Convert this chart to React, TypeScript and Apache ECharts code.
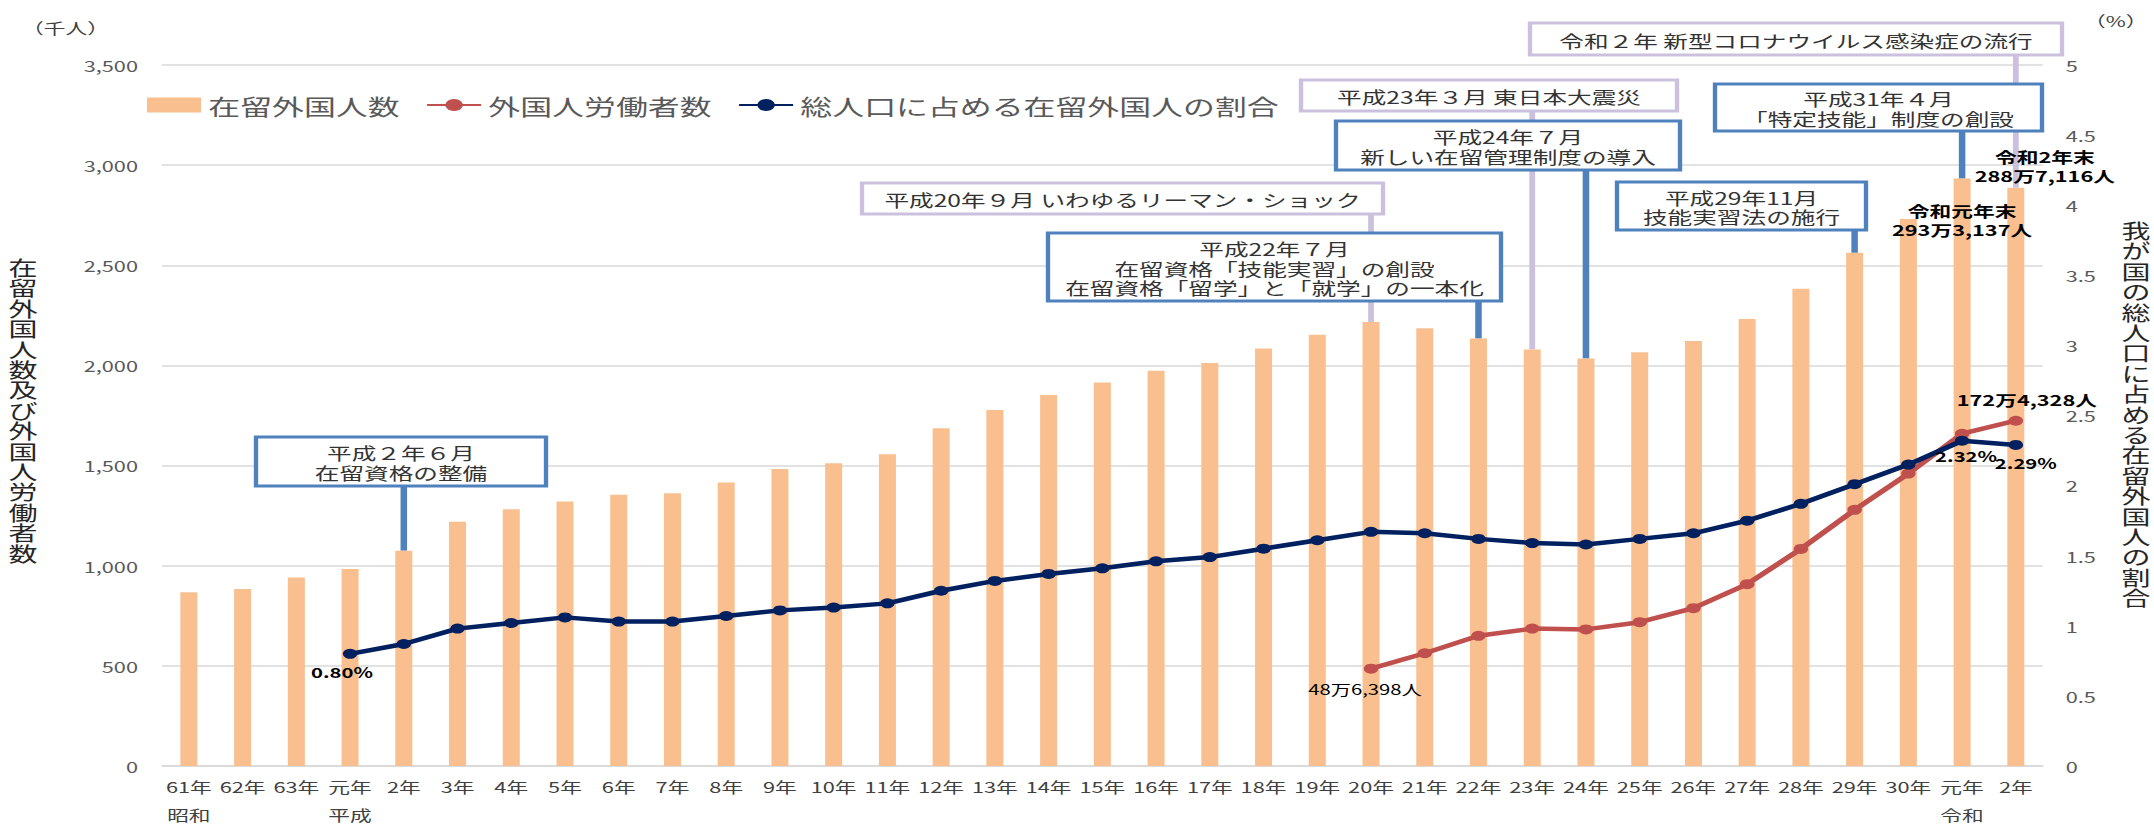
import React, { useEffect, useRef } from "react";
import * as echarts from "echarts";

// ---------- data ----------
const categories = [
  "61年", "62年", "63年", "元年", "2年", "3年", "4年", "5年", "6年", "7年", "8年", "9年",
  "10年", "11年", "12年", "13年", "14年", "15年", "16年", "17年", "18年", "19年", "20年",
  "21年", "22年", "23年", "24年", "25年", "26年", "27年", "28年", "29年", "30年", "元年", "2年",
];
const eraLabels: Record<number, string> = { 0: "昭和", 3: "平成", 33: "令和" };

// 在留外国人数 (千人)
const residents = [
  867, 884, 941, 984, 1075, 1219, 1282, 1321, 1354, 1362, 1415, 1483, 1512, 1556, 1686, 1778,
  1852, 1915, 1974, 2012, 2085, 2153, 2217, 2186, 2134, 2079, 2034, 2066, 2122, 2232, 2383,
  2562, 2731, 2933, 2887,
];
// 外国人労働者数 (千人)
const workers: (number | null)[] = [
  null, null, null, null, null, null, null, null, null, null, null, null, null, null, null,
  null, null, null, null, null, null, null,
  486, 563, 650, 686, 682, 718, 788, 908, 1084, 1279, 1460, 1659, 1724,
];
// 総人口に占める在留外国人の割合 (%)
const ratio: (number | null)[] = [
  null, null, null,
  0.8, 0.87, 0.98, 1.02, 1.06, 1.03, 1.03, 1.07, 1.11, 1.13, 1.16, 1.25, 1.32, 1.37, 1.41,
  1.46, 1.49, 1.55, 1.61, 1.67, 1.66, 1.62, 1.59, 1.58, 1.62, 1.66, 1.75, 1.87, 2.01, 2.15,
  2.32, 2.29,
];

const leftTicks = { min: 0, max: 3500, interval: 500 };
const rightTicks = { min: 0, max: 5, interval: 0.5 };

const seriesNames = ["在留外国人数", "外国人労働者数", "総人口に占める在留外国人の割合"];
const ratioLabelText: Record<number, string> = { 3: "0.80%", 33: "2.32%", 34: "2.29%" };
const workerLabelText: Record<number, string> = { 22: "48万6,398人", 34: "172万4,328人" };
const residentLabelText: Record<number, string> = {
  33: "令和元年末\n293万3,137人",
  34: "令和2年末\n288万7,116人",
};

const annotations = [
  { text: "平成２年６月\n在留資格の整備", at: 4, kind: "blue" },
  { text: "平成20年９月 いわゆるリーマン・ショック", at: 22, kind: "lav" },
  { text: "平成22年７月\n在留資格「技能実習」の創設\n在留資格「留学」と「就学」の一本化", at: 24, kind: "blue" },
  { text: "平成23年３月 東日本大震災", at: 25, kind: "lav" },
  { text: "平成24年７月\n新しい在留管理制度の導入", at: 26, kind: "blue" },
  { text: "平成29年11月\n技能実習法の施行", at: 31, kind: "blue" },
  { text: "平成31年４月\n「特定技能」制度の創設", at: 33, kind: "blue" },
  { text: "令和２年 新型コロナウイルス感染症の流行", at: 34, kind: "lav" },
];

// ---------- layout (reference pixel space) ----------
const annotationBoxes = [
  { x: 256, y: 437, w: 290, h: 49 },
  { x: 862, y: 183, w: 521, h: 31 },
  { x: 1048, y: 233, w: 453, h: 68 },
  { x: 1301, y: 80, w: 376, h: 31 },
  { x: 1336, y: 121, w: 344, h: 49 },
  { x: 1617, y: 182, w: 249, h: 48 },
  { x: 1715, y: 84, w: 327, h: 47 },
  { x: 1530, y: 23, w: 532, h: 32 },
];

const S = 1.45; // horizontal stretch of the reference picture
const FULL_W = 2154;
const H = 828;
const W = FULL_W / S;
const X = (v: number) => v / S;
const FONT = "'Noto Sans CJK JP', 'Noto Sans', sans-serif";

const BAR = "#F9BF8F";
const RED = "#C0504D";
const NAVY = "#002060";
const BLUE = "#4F81BD";
const LAV = "#CBC1DE";

export default function App() {
  const ref = useRef<HTMLDivElement>(null);

  useEffect(() => {
    if (!ref.current) return;
    const chart = echarts.init(ref.current, null, { renderer: "svg" });

    const option: any = {
      animation: false,
      textStyle: { fontFamily: FONT },
      grid: { left: X(162), right: X(112), top: 65, bottom: 58, containLabel: false },
      legend: {
        left: X(147),
        top: 94,
        padding: 0,
        itemWidth: X(54),
        itemHeight: 15,
        itemGap: X(26),
        textStyle: { fontSize: 22, color: "#595959", fontFamily: FONT },
        data: [
          { name: seriesNames[0], icon: "rect" },
          { name: seriesNames[1] },
          { name: seriesNames[2] },
        ],
      },
      xAxis: {
        type: "category",
        data: categories,
        axisTick: { show: false },
        axisLine: { lineStyle: { color: "#D9D9D9", width: 1.5 } },
        axisLabel: {
          interval: 0,
          fontSize: 15,
          color: "#404040",
          margin: 6,
          lineHeight: 28,
          fontFamily: FONT,
          formatter: (v: string, i: number) => (eraLabels[i] ? `${v}\n${eraLabels[i]}` : v),
        },
      },
      yAxis: [
        {
          type: "value",
          ...leftTicks,
          axisLine: { show: false },
          axisTick: { show: false },
          splitLine: { lineStyle: { color: "#D9D9D9", width: 1.5 } },
          axisLabel: {
            fontSize: 15,
            color: "#595959",
            margin: X(24),
            fontFamily: FONT,
            formatter: (v: number) => v.toLocaleString("en-US"),
          },
        },
        {
          type: "value",
          ...rightTicks,
          axisLine: { show: false },
          axisTick: { show: false },
          splitLine: { show: false },
          axisLabel: {
            fontSize: 15,
            color: "#595959",
            margin: X(23),
            fontFamily: FONT,
            formatter: (v: number) => String(v),
          },
        },
      ],
      series: [
        {
          name: seriesNames[0],
          type: "bar",
          barWidth: X(17),
          itemStyle: { color: BAR },
          data: residents.map((v, i) => {
            const t = residentLabelText[i];
            if (!t) return v;
            return {
              value: v,
              label: {
                show: true,
                formatter: t,
                position: i === 33 ? "insideTop" : "top",
                offset: i === 33 ? [0, 17] : [X(29), 2],
                fontSize: 15,
                fontWeight: "bold",
                lineHeight: 19,
                color: "#000",
                fontFamily: FONT,
              },
            };
          }),
        },
        {
          name: seriesNames[1],
          type: "line",
          yAxisIndex: 0,
          symbol: "circle",
          symbolSize: 10,
          itemStyle: { color: RED },
          lineStyle: { color: RED, width: 4.5 },
          data: workers.map((v, i) => {
            const t = workerLabelText[i];
            if (!t) return v;
            return {
              value: v,
              label: {
                show: true,
                formatter: t,
                position: i === 22 ? "bottom" : "top",
                offset: i === 22 ? [X(-6), 3] : [X(11), -4],
                fontSize: i === 22 ? 14 : 15,
                fontWeight: i === 22 ? "normal" : "bold",
                color: "#000",
                fontFamily: FONT,
              },
            };
          }),
        },
        {
          name: seriesNames[2],
          type: "line",
          yAxisIndex: 1,
          symbol: "circle",
          symbolSize: 10,
          itemStyle: { color: NAVY },
          lineStyle: { color: NAVY, width: 4.5 },
          data: ratio.map((v, i) => {
            const t = ratioLabelText[i];
            if (!t) return v;
            const off = i === 3 ? [X(-8), 1] : i === 33 ? [X(4), -2] : [X(10), 1];
            return {
              value: v,
              label: {
                show: true,
                formatter: t,
                position: "bottom",
                offset: off,
                fontSize: 14,
                fontWeight: "bold",
                color: "#000",
                fontFamily: FONT,
              },
            };
          }),
        },
      ],
    };

    chart.setOption(option);

    const graphics: any[] = [
      {
        type: "text",
        id: "unitL",
        x: X(22),
        y: 27,
        style: { text: "（千人）", fontSize: 15, fill: "#404040", fontFamily: FONT, align: "left", verticalAlign: "middle" },
      },
      {
        type: "text",
        id: "unitR",
        x: X(2084),
        y: 20,
        style: { text: "（%）", fontSize: 15, fill: "#404040", fontFamily: FONT, align: "left", verticalAlign: "middle" },
      },
      {
        type: "text",
        id: "titleL",
        x: X(23),
        y: 257,
        style: {
          text: "在留外国人数及び外国人労働者数".split("").join("\n"),
          fontSize: 20,
          lineHeight: 20.4,
          fill: "#262626",
          fontFamily: FONT,
          align: "center",
          verticalAlign: "top",
        },
      },
      {
        type: "text",
        id: "titleR",
        x: X(2136),
        y: 220,
        style: {
          text: "我が国の総人口に占める在留外国人の割合".split("").join("\n"),
          fontSize: 20,
          lineHeight: 20.4,
          fill: "#262626",
          fontFamily: FONT,
          align: "center",
          verticalAlign: "top",
        },
      },
    ];

    annotations.forEach((a, k) => {
      const b = annotationBoxes[k];
      const color = a.kind === "blue" ? BLUE : LAV;
      const p = chart.convertToPixel({ xAxisIndex: 0, yAxisIndex: 0 }, [a.at, residents[a.at]]) as number[];
      graphics.push({
        type: "line",
        id: "conn" + k,
        z: 1,
        shape: { x1: p[0], y1: b.y + b.h, x2: p[0], y2: p[1] },
        style: { stroke: color, lineWidth: a.kind === "blue" ? 4.5 : 4 },
      });
    });
    annotations.forEach((a, k) => {
      const b = annotationBoxes[k];
      const color = a.kind === "blue" ? BLUE : LAV;
      graphics.push({
        type: "rect",
        id: "box" + k,
        z: 10,
        shape: { x: X(b.x), y: b.y, width: X(b.w), height: b.h },
        style: { fill: "#fff", stroke: color, lineWidth: 3 },
      });
      graphics.push({
        type: "text",
        id: "boxt" + k,
        z: 11,
        x: X(b.x + b.w / 2),
        y: b.y + b.h / 2 + 1,
        style: {
          text: a.text,
          fontSize: 17,
          lineHeight: 19.5,
          fill: "#333333",
          fontFamily: FONT,
          align: "center",
          verticalAlign: "middle",
        },
      });
    });

    chart.setOption({ graphic: graphics });

    return () => chart.dispose();
  }, []);

  return (
    <div
      style={{
        position: "fixed",
        left: 0,
        top: 0,
        width: FULL_W,
        height: H,
        overflow: "hidden",
        background: "#fff",
      }}
    >
      <div
        ref={ref}
        style={{
          width: W,
          height: H,
          transform: `scaleX(${S})`,
          transformOrigin: "0 0",
        }}
      />
    </div>
  );
}
